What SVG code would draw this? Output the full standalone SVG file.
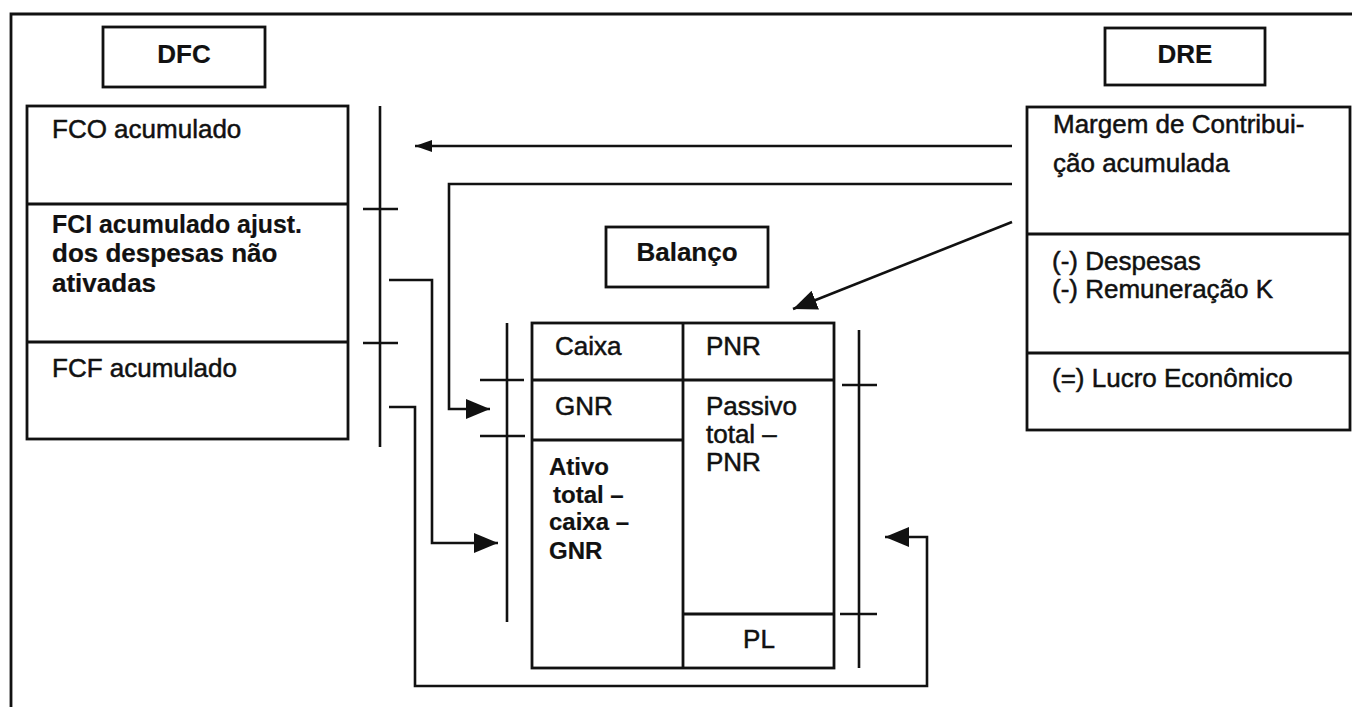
<svg xmlns="http://www.w3.org/2000/svg" width="1352" height="707" viewBox="0 0 1352 707">
<style>
  .box{fill:none;stroke:#111;stroke-width:2.8}
  .ln{fill:none;stroke:#111;stroke-width:2.6}
  .t{font-family:"Liberation Sans",Arial,sans-serif;font-size:26px;fill:#111;stroke:#111;stroke-width:0.5}
  .b{font-weight:bold;stroke-width:0.2}
  .m{text-anchor:middle}
</style>
<defs>
  <marker id="ah" markerUnits="userSpaceOnUse" markerWidth="26" markerHeight="22" refX="24" refY="10" orient="auto">
    <path d="M0,0 L24,10 L0,20 Z" fill="#111"/>
  </marker>
  <marker id="ahs" markerUnits="userSpaceOnUse" markerWidth="18" markerHeight="14" refX="17" refY="6" orient="auto">
    <path d="M0,0 L17,6 L0,12 Z" fill="#111"/>
  </marker>
</defs>
<rect width="1352" height="707" fill="#fff"/>
<path class="box" d="M11,707 V14 H1352"/>

<g id="dfc-title">
  <rect class="box" x="103" y="27" width="162" height="60"/>
  <text class="t b m" x="184" y="63">DFC</text>
</g>
<g id="dfc">
  <rect class="box" x="27" y="106" width="321" height="333"/>
  <line class="box" x1="27" y1="204" x2="348" y2="204"/>
  <line class="box" x1="27" y1="342" x2="348" y2="342"/>
  <text class="t" x="52" y="138">FCO acumulado</text>
  <text class="t b" x="52" y="233" textLength="250" lengthAdjust="spacingAndGlyphs">FCI acumulado ajust.</text>
  <text class="t b" x="52" y="262">dos despesas não</text>
  <text class="t b" x="52" y="292">ativadas</text>
  <text class="t" x="52" y="377">FCF acumulado</text>
</g>
<g id="balanco-title">
  <rect class="box" x="606" y="227" width="162" height="60"/>
  <text class="t b m" x="687" y="261">Balanço</text>
</g>
<g id="balanco">
  <rect class="box" x="532" y="323" width="302" height="345"/>
  <line class="box" x1="683" y1="323" x2="683" y2="668"/>
  <line class="box" x1="532" y1="380" x2="834" y2="380"/>
  <line class="box" x1="532" y1="440" x2="683" y2="440"/>
  <line class="box" x1="683" y1="614" x2="834" y2="614"/>
  <text class="t" x="555" y="355">Caixa</text>
  <text class="t" x="706" y="355">PNR</text>
  <text class="t" x="555" y="415">GNR</text>
  <text class="t" x="706" y="415">Passivo</text>
  <text class="t" x="706" y="443">total –</text>
  <text class="t" x="706" y="471">PNR</text>
  <text class="t b" x="549" y="475" style="font-size:24px">Ativo</text>
  <text class="t b" x="553" y="503" style="font-size:24px">total –</text>
  <text class="t b" x="549" y="530" style="font-size:24px">caixa –</text>
  <text class="t b" x="549" y="559" style="font-size:24px">GNR</text>
  <text class="t m" x="759" y="648">PL</text>
</g>
<g id="dre-title">
  <rect class="box" x="1105" y="28" width="160" height="57"/>
  <text class="t b m" x="1185" y="63">DRE</text>
</g>
<g id="dre">
  <rect class="box" x="1027" y="107" width="323" height="323"/>
  <line class="box" x1="1027" y1="234" x2="1350" y2="234"/>
  <line class="box" x1="1027" y1="353" x2="1350" y2="353"/>
  <text class="t" x="1053" y="133">Margem de Contribui-</text>
  <text class="t" x="1053" y="172">ção acumulada</text>
  <text class="t" x="1052" y="270">(-) Despesas</text>
  <text class="t" x="1052" y="298">(-) Remuneração K</text>
  <text class="t" x="1052" y="387">(=) Lucro Econômico</text>
</g>
<g id="connectors">
  <path class="ln" d="M380,106 V447 M363,209 H398 M363,343 H398"/>
  <path class="ln" d="M507,323 V622 M480,380 H524 M480,436 H525"/>
  <path class="ln" d="M859,330 V668 M842,385 H877 M840,614 H877"/>
  <path class="ln" d="M1012,146 H415" marker-end="url(#ahs)"/>
  <path class="ln" d="M1012,184 H449 V409 H490" marker-end="url(#ah)"/>
  <path class="ln" d="M1012,222 L793,309" marker-end="url(#ah)"/>
  <path class="ln" d="M389,280 H432 V543 H498" marker-end="url(#ah)"/>
  <path class="ln" d="M389,407 H415 V686 H927 V537 H885" marker-end="url(#ah)"/>
</g>
</svg>
